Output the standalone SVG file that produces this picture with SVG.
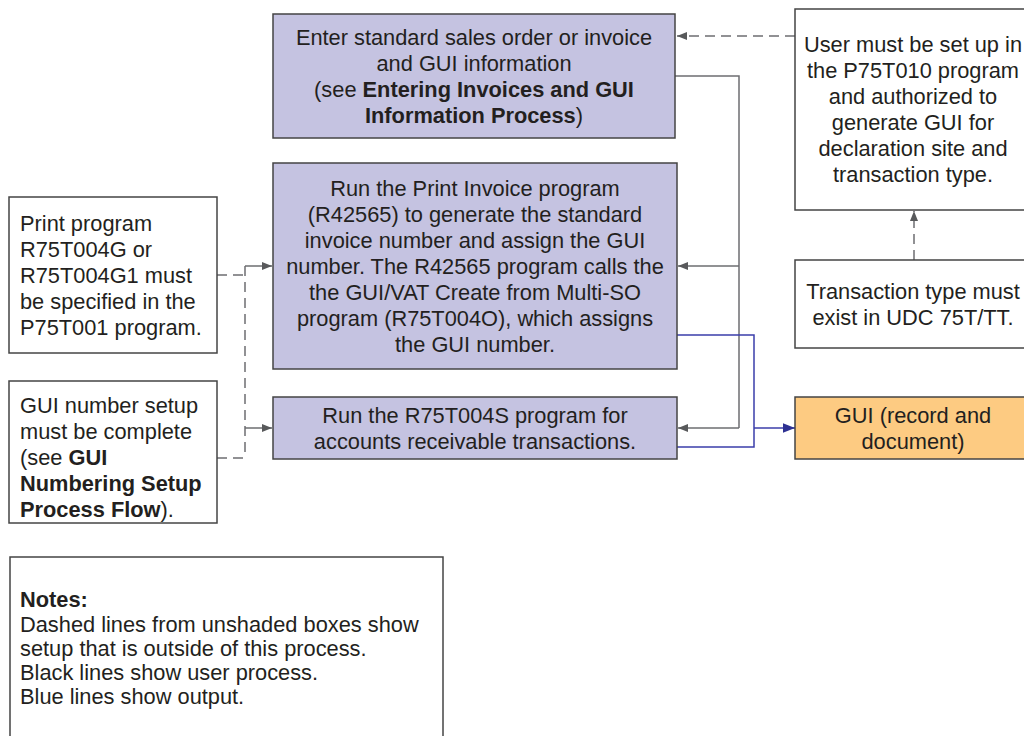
<svg xmlns="http://www.w3.org/2000/svg" width="1024" height="736" viewBox="0 0 1024 736">
<defs>
<style>
text{font-family:"Liberation Sans",Arial,sans-serif;font-size:21.8px;fill:#231f20}
.c{text-anchor:middle}
.b{font-weight:bold}
.proc{fill:#c5c3e1;stroke:#444;stroke-width:1.5}
.note{fill:#fff;stroke:#444;stroke-width:1.5}
.out{fill:#fdcb82;stroke:#444;stroke-width:1.5}
.gl{fill:none;stroke:#6d6e71;stroke-width:1.5}
.dl{fill:none;stroke:#6d6e71;stroke-width:1.5;stroke-dasharray:10 6}
.bl{fill:none;stroke:#3b3eaa;stroke-width:1.5}
</style>
<marker id="ag" viewBox="0 0 10 10" refX="10" refY="5" markerWidth="10" markerHeight="10" markerUnits="userSpaceOnUse" orient="auto"><path d="M0,1 L10,5 L0,9 Z" fill="#58595b"/></marker>
<marker id="ab" viewBox="0 0 10 10" refX="10" refY="5" markerWidth="12" markerHeight="12" markerUnits="userSpaceOnUse" orient="auto"><path d="M0,1 L10,5 L0,9 Z" fill="#2e3192"/></marker>
</defs>
<rect width="1024" height="736" fill="#fff"/>

<g id="connectors">
<path class="dl" d="M795,36 H677" marker-end="url(#ag)"/>
<path class="gl" d="M675,76 H739 V428"/>
<path class="gl" d="M739,266 H678" marker-end="url(#ag)"/>
<path class="gl" d="M739,428 H678" marker-end="url(#ag)"/>
<path class="bl" d="M677,335 H754 V447 H677"/>
<path class="bl" d="M754,428 H795" marker-end="url(#ab)"/>
<path class="dl" d="M217,275 H245"/>
<path class="dl" d="M217,458 H245"/>
<path class="dl" d="M245,266 V458"/>
<path class="gl" d="M245,266 H272" marker-end="url(#ag)"/>
<path class="gl" d="M245,428 H272" marker-end="url(#ag)"/>
<path class="dl" d="M914,260 V211" marker-end="url(#ag)"/>
</g>

<g id="enter">
<rect class="proc" x="273" y="14" width="402" height="124"/>
<text class="c" x="474" y="45">Enter standard sales order or invoice</text>
<text class="c" x="474" y="71">and GUI information</text>
<text class="c" x="474" y="97">(see <tspan class="b">Entering Invoices and GUI</tspan></text>
<text class="c" x="474" y="123"><tspan class="b">Information Process</tspan>)</text>
</g>

<g id="printinvoice">
<rect class="proc" x="273" y="163" width="404" height="206"/>
<text class="c" x="475" y="196">Run the Print Invoice program</text>
<text class="c" x="475" y="222">(R42565) to generate the standard</text>
<text class="c" x="475" y="248">invoice number and assign the GUI</text>
<text class="c" x="475" y="274">number. The R42565 program calls the</text>
<text class="c" x="475" y="300">the GUI/VAT Create from Multi-SO</text>
<text class="c" x="475" y="326">program (R75T004O), which assigns</text>
<text class="c" x="475" y="352">the GUI number.</text>
</g>

<g id="r75t004s">
<rect class="proc" x="273" y="397" width="404" height="62"/>
<text class="c" x="475" y="423">Run the R75T004S program for</text>
<text class="c" x="475" y="449">accounts receivable transactions.</text>
</g>

<g id="printprogram">
<rect class="note" x="9" y="197" width="208" height="156"/>
<text x="20" y="231">Print program</text>
<text x="20" y="257">R75T004G or</text>
<text x="20" y="283">R75T004G1 must</text>
<text x="20" y="309">be specified in the</text>
<text x="20" y="335">P75T001 program.</text>
</g>

<g id="guinumber">
<rect class="note" x="9" y="381" width="208" height="142"/>
<text x="20" y="413">GUI number setup</text>
<text x="20" y="439">must be complete</text>
<text x="20" y="465">(see <tspan class="b">GUI</tspan></text>
<text x="20" y="491" class="b">Numbering Setup</text>
<text x="20" y="517"><tspan class="b">Process Flow</tspan>).</text>
</g>

<g id="user">
<rect class="note" x="795" y="9" width="236" height="201"/>
<text class="c" x="913" y="52">User must be set up in</text>
<text class="c" x="913" y="78">the P75T010 program</text>
<text class="c" x="913" y="104">and authorized to</text>
<text class="c" x="913" y="130">generate GUI for</text>
<text class="c" x="913" y="156">declaration site and</text>
<text class="c" x="913" y="182">transaction type.</text>
</g>

<g id="transtype">
<rect class="note" x="795" y="260" width="236" height="88"/>
<text class="c" x="913" y="299">Transaction type must</text>
<text class="c" x="913" y="325">exist in UDC 75T/TT.</text>
</g>

<g id="gui">
<rect class="out" x="795" y="397" width="236" height="62"/>
<text class="c" x="913" y="423">GUI (record and</text>
<text class="c" x="913" y="449">document)</text>
</g>

<g id="notes">
<rect class="note" x="10" y="557" width="433" height="190"/>
<text x="20" y="607" class="b">Notes:</text>
<text x="20" y="632">Dashed lines from unshaded boxes show</text>
<text x="20" y="656">setup that is outside of this process.</text>
<text x="20" y="680">Black lines show user process.</text>
<text x="20" y="704">Blue lines show output.</text>
</g>
</svg>
